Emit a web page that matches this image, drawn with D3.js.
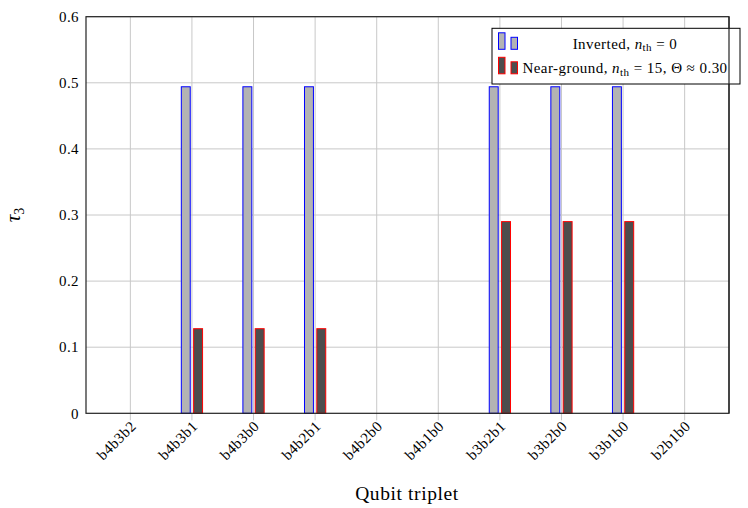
<!DOCTYPE html>
<html>
<head>
<meta charset="utf-8">
<script src="https://cdn.jsdelivr.net/npm/d3@7"></script>
<style>
  html, body { margin: 0; padding: 0; background: #fff; }
  svg { display: block; }
  text { font-family: "Liberation Serif", "DejaVu Serif", serif; fill: #000; }
</style>
</head>
<body>
<svg id="chart" width="748" height="508"></svg>
<script>
const categories = ["b4b3b2", "b4b3b1", "b4b3b0", "b4b2b1", "b4b2b0", "b4b1b0", "b3b2b1", "b3b2b0", "b3b1b0", "b2b1b0"];
const invertedValues = [0, 0.494, 0.494, 0.494, 0, 0, 0.494, 0.494, 0.494, 0];
const nearGroundValues = [0, 0.128, 0.128, 0.128, 0, 0, 0.290, 0.290, 0.290, 0];
const yTicks = [0, 0.1, 0.2, 0.3, 0.4, 0.5, 0.6];

(function () {
const svg = d3.select("#chart");
const pL = 86, pR = 729, pT = 16.7, pB = 413.3;

const x = d3.scaleLinear().domain([-0.72, categories.length - 1 + 0.72]).range([pL, pR]);
const y = d3.scaleLinear().domain([0, 0.6]).range([pB, pT]);

const barW = 0.145, off = 0.1;

// grid
const grid = svg.append("g");
grid.selectAll("line.h").data(yTicks.slice(1)).enter().append("line")
  .attr("x1", pL).attr("x2", pR)
  .attr("y1", d => y(d)).attr("y2", d => y(d))
  .attr("stroke", "#c8c8c8").attr("stroke-width", 1);
grid.selectAll("line.v").data(categories).enter().append("line")
  .attr("x1", (d, i) => x(i)).attr("x2", (d, i) => x(i))
  .attr("y1", pT).attr("y2", pB + 7)
  .attr("stroke", "#c8c8c8").attr("stroke-width", 1);

const series = [
  { vals: invertedValues, fill: "#b3b3b3", stroke: "#0000ff", shift: -off },
  { vals: nearGroundValues, fill: "#4d4d4d", stroke: "#ff0000", shift: off }
];
function drawBars(filterFn) {
  series.forEach(s => {
    const data = s.vals.map((v, i) => ({ v, i })).filter(filterFn);
    svg.append("g").selectAll("rect").data(data).enter().append("rect")
      .attr("x", d => x(d.i + s.shift - barW / 2))
      .attr("width", x(barW) - x(0))
      .attr("y", d => y(d.v))
      .attr("height", d => y(0) - y(d.v))
      .attr("fill", s.fill)
      .attr("stroke", s.stroke)
      .attr("stroke-opacity", d => d.v === 0 ? 0.7 : 1)
      .attr("stroke-width", 1);
  });
}
drawBars(d => d.v > 0);

// axis frame
svg.append("rect").attr("x", pL).attr("y", pT)
  .attr("width", pR - pL).attr("height", pB - pT)
  .attr("fill", "none").attr("stroke", "#222").attr("stroke-width", 1.2);

// zero-height bars drawn over baseline
drawBars(d => d.v === 0);

// y tick labels
svg.append("g").selectAll("text").data(yTicks).enter().append("text")
  .attr("x", pL - 7).attr("y", d => y(d))
  .attr("dy", "0.35em").attr("text-anchor", "end")
  .attr("font-size", 15).attr("letter-spacing", 0.4)
  .text(d => d === 0 ? "0" : d3.format(".1f")(d));

// x tick labels
svg.append("g").selectAll("text").data(categories).enter().append("text")
  .attr("transform", (d, i) => `translate(${x(i) + 3},${pB + 10}) rotate(-45)`)
  .attr("text-anchor", "end")
  .attr("dy", "0.35em")
  .attr("font-size", 15).attr("letter-spacing", 0.5)
  .text(d => d);

// axis titles
svg.append("text").attr("x", 407).attr("y", 500)
  .attr("text-anchor", "middle").attr("font-size", 19.5).attr("letter-spacing", 0.6)
  .text("Qubit triplet");

const yl = svg.append("text")
  .attr("transform", `translate(20,${(pT + pB) / 2}) rotate(-90)`)
  .attr("text-anchor", "middle").attr("font-size", 21);
yl.append("tspan").attr("font-style", "italic").text("τ");
yl.append("tspan").attr("font-size", 14).attr("dy", 4).text("3");

// legend
const lg = svg.append("g");
lg.append("rect").attr("x", 492).attr("y", 28.3).attr("width", 248).attr("height", 55.7)
  .attr("fill", "#fff").attr("stroke", "#000").attr("stroke-width", 1);

const legendItems = [
  { fill: "#b3b3b3", stroke: "#0000ff", yb: 49.3, parts: [["Inverted, ", null], ["n", "i"], ["th", "sub"], [" = 0", null]] },
  { fill: "#4d4d4d", stroke: "#ff0000", yb: 73.8, parts: [["Near-ground, ", null], ["n", "i"], ["th", "sub"], [" = 15, Θ ≈ 0.30", null]] }
];
legendItems.forEach(it => {
  lg.append("rect").attr("x", 498.5).attr("y", it.yb - 16.5).attr("width", 6.5).attr("height", 16.5)
    .attr("fill", it.fill).attr("stroke", it.stroke).attr("stroke-width", 1);
  lg.append("rect").attr("x", 511).attr("y", it.yb - 12).attr("width", 6.5).attr("height", 12)
    .attr("fill", it.fill).attr("stroke", it.stroke).attr("stroke-width", 1);
  const t = lg.append("text").attr("x", 625).attr("y", it.yb - 0.5)
    .attr("text-anchor", "middle").attr("font-size", 15).attr("letter-spacing", 0.45);
  it.parts.forEach(p => {
    const ts = t.append("tspan").text(p[0]);
    if (p[1] === "i") ts.attr("font-style", "italic");
    if (p[1] === "sub") { ts.attr("font-size", 11).attr("dy", 2.5); }
    else if (p[0].startsWith(" =")) ts.attr("dy", -2.5);
  });
});

// plot right border drawn over legend
svg.append("line").attr("x1", pR).attr("x2", pR).attr("y1", pT).attr("y2", pB)
  .attr("stroke", "#222").attr("stroke-width", 1.2);
})();
</script>
</body>
</html>
